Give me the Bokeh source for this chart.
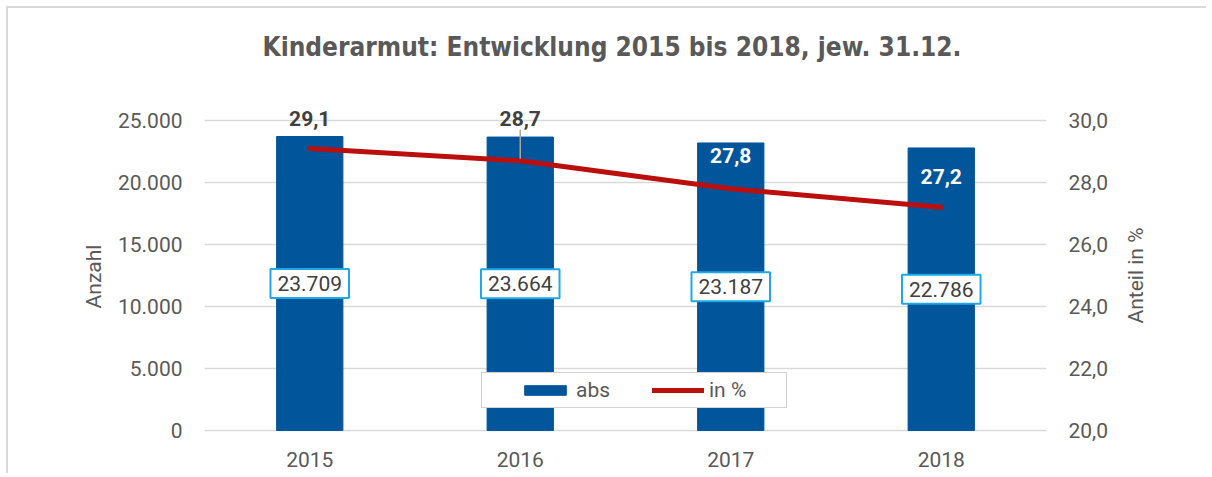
import math
from bokeh.plotting import figure
from bokeh.models import (ColumnDataSource, FactorRange, Range1d, LinearAxis, FixedTicker,
                          CustomJSTickFormatter, LabelSet, Label, Legend, LegendItem)
from bokeh.core.properties import value
from bokeh.embed import file_html
from bokeh.resources import INLINE

# ---- data ----
years = ["2015", "2016", "2017", "2018"]
abs_values = [23709, 23664, 23187, 22786]
pct_values = [29.1, 28.7, 27.8, 27.2]
left_ticks = [0, 5000, 10000, 15000, 20000, 25000]
right_ticks = [20, 22, 24, 26, 28, 30]
title_text = "Kinderarmut: Entwicklung 2015 bis 2018, jew. 31.12."
right_axis_title = "Anteil in %"

# ---- styles / layout ----
BAR = "#01559B"
RED = "#BA0F0C"
GRID = "#D9D9D9"
TXT = "#595959"
DARK = "#404040"
BOX = "#1FA8E6"
FONT = "Roboto"
pct_label_offset_px = [30, 42, 33, 31]
pct_label_color = [DARK, DARK, "white", "white"]

DATA_H = 310          # pixels between tick 0 and top tick
PAD_TOP = 16          # extra frame pixels above top tick
PAD_BOT = 18          # extra frame pixels below 0
L_MIN, L_MAX = left_ticks[0], left_ticks[-1]
R_MIN, R_MAX = right_ticks[0], right_ticks[-1]
lpx = (L_MAX - L_MIN) / DATA_H
rpx = (R_MAX - R_MIN) / DATA_H
left_range = Range1d(L_MIN - PAD_BOT * lpx, L_MAX + PAD_TOP * lpx)
right_range = Range1d(R_MIN - PAD_BOT * rpx, R_MAX + PAD_TOP * rpx)

src = ColumnDataSource(dict(
    year=years,
    absv=abs_values,
    absmid=[v / 2 for v in abs_values],
    abslab=[f"{v:,}".replace(",", ".") for v in abs_values],
    pct=pct_values,
    pctlab=[f"{v:.1f}".replace(".", ",") for v in pct_values],
    off=pct_label_offset_px,
    pcol=pct_label_color,
))

p = figure(x_range=FactorRange(*years, range_padding=0), y_range=left_range,
           width=1200, height=467, output_backend="svg", toolbar_location=None,
           min_border_left=196, min_border_right=162, min_border_top=96, min_border_bottom=27)
p.styles = {"margin-left": "6px", "margin-top": "6px",
            "border-left": "2px solid #D9D9D9", "border-top": "2px solid #D9D9D9"}
p.extra_y_ranges = {"pct": right_range}
p.outline_line_color = None
p.background_fill_color = "white"
p.border_fill_color = "white"

# grid
p.xgrid.grid_line_color = None
p.ygrid.grid_line_color = GRID
p.ygrid.grid_line_width = 1.5
p.ygrid.ticker = FixedTicker(ticks=left_ticks)

# left axis
ya = p.yaxis[0]
ya.ticker = FixedTicker(ticks=left_ticks)
ya.formatter = CustomJSTickFormatter(code="return tick.toFixed(0).replace(/\\B(?=(\\d{3})+(?!\\d))/g, '.');")
ya.axis_line_color = None
ya.major_tick_line_color = None
ya.minor_tick_line_color = None
ya.major_tick_out = 0
ya.major_tick_in = 0
ya.minor_tick_out = 0
ya.major_label_standoff = 22
ya.major_label_text_font = FONT
ya.major_label_text_font_size = "21px"
ya.major_label_text_color = TXT
ya.axis_label = "Anzahl"
ya.axis_label_text_font = FONT
ya.axis_label_text_font_size = "21px"
ya.axis_label_text_font_style = "normal"
ya.axis_label_text_color = TXT
ya.axis_label_standoff = 9

# right axis
ra = LinearAxis(y_range_name="pct", ticker=FixedTicker(ticks=right_ticks),
                formatter=CustomJSTickFormatter(code="return tick.toFixed(1).replace('.', ',');"))
ra.axis_line_color = None
ra.major_tick_line_color = None
ra.minor_tick_line_color = None
ra.major_tick_out = 0
ra.major_tick_in = 0
ra.minor_tick_out = 0
ra.major_label_standoff = 22
ra.major_label_text_font = FONT
ra.major_label_text_font_size = "21px"
ra.major_label_text_color = TXT
p.add_layout(ra, "right")

# right axis title, reading bottom-to-top, placed in the right side panel
rt = Label(x=24, y=173, x_units="screen", y_units="screen", text=right_axis_title,
           angle=math.pi / 2, text_align="center", text_baseline="middle",
           text_font=FONT, text_font_size="21px", text_color=TXT)
p.add_layout(rt, "right")

# x axis (baseline drawn by the 0 gridline)
xa = p.xaxis[0]
xa.axis_line_color = None
xa.major_tick_line_color = None
xa.minor_tick_line_color = None
xa.major_tick_out = 0
xa.major_tick_in = 0
xa.major_label_standoff = 3
xa.major_label_text_font = FONT
xa.major_label_text_font_size = "21px"
xa.major_label_text_color = TXT

# bars and line
bars = p.vbar(x="year", top="absv", bottom=L_MIN, width=0.315, source=src,
              fill_color=BAR, line_color=BAR)
line = p.line(x="year", y="pct", source=src, y_range_name="pct", line_color=RED,
              line_width=5, line_cap="round", line_join="round")

# leader line for the 2016 label
i = 1
p.segment(x0=[years[i]], x1=[years[i]],
          y0=[pct_values[i] + 2 * rpx],
          y1=[pct_values[i] + (pct_label_offset_px[i] - 11) * rpx],
          y_range_name="pct", line_color="#A6A6A6", line_width=1.5)

# abs labels (boxed)
p.text(x="year", y="absmid", text="abslab", source=src,
       text_align="center", text_baseline="middle",
       text_font=value(FONT), text_font_size="21px", text_color=DARK,
       background_fill_color="white", border_line_color=BOX,
       border_line_width=2, padding=7)

# pct labels
pct_labels = LabelSet(x="year", y="pct", text="pctlab", source=src, y_range_name="pct",
                      y_offset="off", text_align="center", text_baseline="middle",
                      text_font=value(FONT), text_font_size="21px", text_font_style="bold",
                      text_color="pcol")
p.add_layout(pct_labels)

# title, placed in the top panel
t = Label(x=407.5, y=58, x_units="screen", y_units="screen", text=title_text,
          text_align="center", text_baseline="middle",
          text_font="Liberation Sans Narrow, DejaVu Sans Condensed, sans-serif",
          text_font_size="26px", text_font_style="bold", text_color=TXT)
p.add_layout(t, "above")

# legend
legend = Legend(items=[LegendItem(label="abs", renderers=[bars]),
                       LegendItem(label="in %", renderers=[line])],
                orientation="horizontal", location=(277, 22 + PAD_BOT),
                title="\u00a0", title_location="left", title_text_font_size="8px",
                title_standoff=23,
                glyph_width=52, glyph_height=12, label_standoff=5, spacing=4,
                label_width=72, padding=5, margin=0,
                label_text_font=FONT, label_text_font_size="21px", label_text_color=TXT,
                border_line_color="#A6A6A6", border_line_width=1.5,
                background_fill_color="white", background_fill_alpha=1)
p.add_layout(legend)

open("out.html", "w").write(file_html(p, INLINE))
